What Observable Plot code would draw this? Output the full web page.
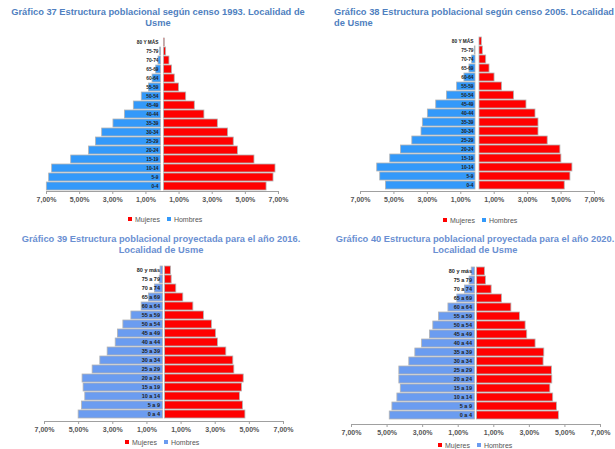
<!DOCTYPE html>
<html><head><meta charset="utf-8">
<script src="https://cdn.jsdelivr.net/npm/d3@7"></script>
<script src="https://cdn.jsdelivr.net/npm/@observablehq/plot@0.6"></script>
<style>
body{margin:0;background:#fff;font-family:"Liberation Sans",Arial,sans-serif;}
#root{position:relative;width:615px;height:449px;overflow:hidden;background:#fff;}
.title{position:absolute;font-weight:bold;font-size:9.3px;line-height:11px;white-space:nowrap;}
.legend{position:absolute;font-size:7px;color:#555;white-space:nowrap;line-height:8px;}
.sw{display:inline-block;width:4px;height:4px;margin-right:3px;vertical-align:middle;position:relative;top:-1px}
.panel{position:absolute}
</style></head><body><div id="root"></div>
<script>
// Age groups (bottom to top)
const groupsCenso = ["0-4","5-9","10-14","15-19","20-24","25-29","30-34","35-39","40-44","45-49","50-54","55-59","60-64","65-69","70-74","75-79","80 Y MÁS"];
const groupsProy = ["0 a 4","5 a 9","10 a 14","15 a 19","20 a 24","25 a 29","30 a 34","35 a 39","40 a 44","45 a 49","50 a 54","55 a 59","60 a 64","65 a 69","70 a 74","75 a 79","80 y más"];

// Gráfico 37 – censo 1993 (% of population)
const hombres1993 = [6.98,6.84,6.66,5.51,4.43,4.02,3.64,2.96,2.27,1.73,1.25,0.82,0.60,0.38,0.24,0.14,0.08];
const mujeres1993 = [6.28,6.70,6.82,5.55,4.55,4.30,3.96,3.34,2.53,1.95,1.43,1.00,0.74,0.58,0.42,0.22,0.14];
// Gráfico 38 – censo 2005
const hombres2005 = [5.48,5.82,6.00,5.22,4.58,3.90,3.35,3.27,2.97,2.47,1.83,1.22,0.78,0.48,0.32,0.16,0.10];
const mujeres2005 = [5.22,5.56,5.68,5.02,4.96,4.20,3.65,3.65,3.47,2.93,2.19,1.47,1.02,0.72,0.52,0.32,0.26];
// Gráfico 39 – proyección 2016
const hombres2016 = [5.00,4.80,4.61,4.71,4.77,4.18,3.73,3.30,2.83,2.70,2.38,1.91,1.31,0.88,0.53,0.25,0.20];
const mujeres2016 = [4.77,4.63,4.45,4.57,4.67,4.12,4.06,3.65,3.16,3.05,2.81,2.34,1.72,1.13,0.72,0.45,0.41];
// Gráfico 40 – proyección 2020
const hombres2020 = [4.85,4.70,4.42,4.23,4.31,4.31,3.75,3.41,3.03,2.59,2.40,2.08,1.55,1.05,0.62,0.36,0.24];
const mujeres2020 = [4.66,4.55,4.34,4.18,4.29,4.27,3.80,3.84,3.35,2.88,2.79,2.47,1.99,1.46,0.88,0.56,0.50];

const xTicks = [-7,-5,-3,-1,1,3,5,7];
const titles = [
  "Gráfico 37 Estructura poblacional según censo 1993. Localidad de<br>Usme",
  "Gráfico 38 Estructura poblacional según censo 2005. Localidad<br>de Usme",
  "Gráfico 39 Estructura poblacional proyectada para el año 2016.<br>Localidad de Usme",
  "Gráfico 40 Estructura poblacional proyectada para el año 2020.<br>Localidad de Usme"
];
const legendLabels = ["Mujeres","Hombres"];

const RED = "#ff0000";
const root = document.getElementById("root");

function pyramid(cfg){
  const hom = cfg.groups.map((g,i)=>({g, v:-cfg.h[i]}));
  const muj = cfg.groups.map((g,i)=>({g, v:cfg.m[i]}));
  return Plot.plot({
    width: cfg.width, height: cfg.height,
    marginLeft: cfg.ml, marginRight: cfg.mr, marginTop: cfg.mt, marginBottom: cfg.mb,
    style:{background:"transparent", fontFamily:"'Liberation Sans',Arial,sans-serif"},
    x:{domain:[-7,7], axis:null, label:null},
    y:{domain: cfg.groups.slice().reverse(), paddingInner:0.16, paddingOuter:0.04, axis:null, label:null},
    marks:[
      Plot.barX(hom, {y:"g", x1:0, x2:"v", fill:cfg.blue, stroke:"#b4b4b4", strokeWidth:0.8, insetRight:cfg.gap}),
      Plot.barX(muj, {y:"g", x1:0, x2:"v", fill:RED, stroke:"#b4b4b4", strokeWidth:0.8, insetLeft:cfg.gap}),
      Plot.frame({anchor:"bottom", stroke:"#a0a0a0"}),
      Plot.axisX(xTicks, {label:null, tickSize:3, tickPadding:3, stroke:"#a0a0a0", fill:"#555", fontSize:7, fontWeight:"bold",
        tickFormat: d => Math.abs(d).toFixed(2).replace(".", ",") + "%"}),
      Plot.text(cfg.groups, {y: d=>d, x:0, text: d=>d, dx:-4, textAnchor:"end", fontSize:cfg.fs, fontWeight:"bold", fill:"#222"})
    ]
  });
}

const panels = [
  {groups:groupsCenso, h:hombres1993, m:mujeres1993, blue:"#3399fa", left:0, top:30, width:310, height:185, ml:46, mr:32, mt:6, mb:24, gap:1.5, fs:4.8,
   title:{left:3, top:7, width:310, align:"center", color:"#4f7fc0"}, legend:{left:128, top:216}},
  {groups:groupsCenso, h:hombres2005, m:mujeres2005, blue:"#3399fa", left:305, top:30, width:310, height:185, ml:55, mr:21, mt:5, mb:24, gap:2, fs:4.8,
   title:{left:334, top:7, width:300, align:"left", color:"#4f7fc0"}, legend:{left:443, top:217}},
  {groups:groupsProy, h:hombres2016, m:mujeres2016, blue:"#6b9cf0", left:0, top:258, width:310, height:180, ml:44, mr:27, mt:4, mb:17, gap:1, fs:5.5,
   title:{left:0, top:234, width:322, align:"center", color:"#6a8fd2"}, legend:{left:125, top:439}},
  {groups:groupsProy, h:hombres2020, m:mujeres2020, blue:"#6b9cf0", left:305, top:258, width:310, height:185, ml:46, mr:15, mt:3, mb:19, gap:1, fs:5.5,
   title:{left:335, top:234, width:280, align:"center", color:"#6a8fd2"}, legend:{left:438, top:442}}
];

panels.forEach((p, i) => {
  const div = document.createElement("div");
  div.className = "panel";
  div.style.left = p.left + "px"; div.style.top = p.top + "px";
  div.appendChild(pyramid(p));
  root.appendChild(div);

  const t = document.createElement("div");
  t.className = "title";
  t.innerHTML = titles[i];
  t.style.left = p.title.left + "px"; t.style.top = p.title.top + "px";
  t.style.width = p.title.width + "px"; t.style.textAlign = p.title.align;
  t.style.color = p.title.color;
  root.appendChild(t);

  const lg = document.createElement("div");
  lg.className = "legend";
  lg.style.left = p.legend.left + "px"; lg.style.top = p.legend.top + "px";
  const cols = [RED, p.blue];
  lg.innerHTML = legendLabels.map((l,j)=>`<span class="sw" style="background:${cols[j]}"></span>${l}`).join('<span style="display:inline-block;width:7px"></span>');
  root.appendChild(lg);
});
</script>
</body></html>
